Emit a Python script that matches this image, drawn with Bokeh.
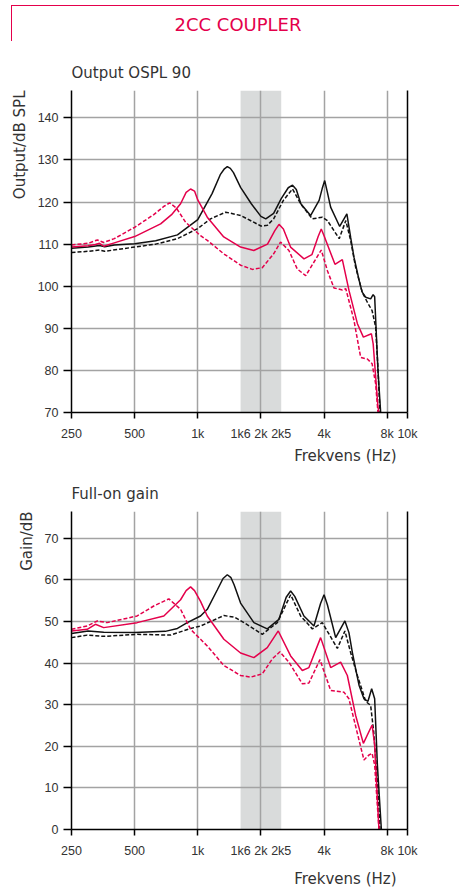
from bokeh.plotting import figure
from bokeh.models import Range1d, FixedTicker, BoxAnnotation, Title, LinearAxis, Div
from bokeh.layouts import column
from bokeh.embed import file_html
from bokeh.resources import INLINE

RED = "#e4004b"
BLACK = "#111111"
TXT = "#333333"
GRID = "#a3a3a3"
BAND = "#d9dbdb"
TICK_FONT = "Liberation Sans"
LABEL_FONT = "DejaVu Sans"

header_text = "2CC COUPLER"
chart1_title = "Output OSPL 90"
chart1_ylabel = "Output/dB SPL"
chart2_title = "Full-on gain"
chart2_ylabel = "Gain/dB"
x_title = "Frekvens (Hz)"

# x axis
x_tick_values = [250, 500, 1000, 1600, 2000, 2500, 4000, 8000, 10000]
x_tick_labels = ["250", "500", "1k", "1k6", "2k", "2k5", "4k", "8k", "10k"]
x_tick_marks = [250, 500, 1000, 2000, 4000, 8000, 10000]
x_grid_values = [500, 1000, 2000, 4000, 8000]
band_low, band_high = 1600, 2500

# chart 1: Output OSPL 90 (dB SPL)
ospl_y_ticks = [70, 80, 90, 100, 110, 120, 130, 140]
ospl_black_solid_f = [250, 300, 340, 360, 400, 500, 630, 800, 1000, 1170, 1280, 1340, 1383, 1430, 1480, 1600, 1800,
                      2000, 2110, 2300, 2500, 2700, 2830, 2950, 3100, 3450, 3790, 3920, 4030, 4150, 4300, 4750, 5140,
                      5357, 5555, 5880, 6080, 6317, 6673, 6855, 6973, 7230, 7448]
ospl_black_solid_v = [109.0, 109.3, 109.7, 109.4, 109.8, 110.1, 110.8, 112.2, 115.8, 122.0, 126.5, 127.9, 128.4,
                      128.0, 127.0, 123.5, 119.6, 116.6, 116.0, 117.3, 120.8, 123.4, 124.0, 123.0, 119.6, 116.8,
                      120.4, 123.2, 125.1, 122.3, 118.8, 114.2, 117.2, 111.6, 106.9, 101.4, 98.6, 97.4, 97.0, 98.0,
                      97.5, 80.0, 70.0]
ospl_black_dash_f = [250, 300, 340, 360, 500, 630, 800, 1000, 1150, 1360, 1600, 1800, 2000, 2150, 2300, 2560, 2830,
                     3100, 3520, 3925, 4150, 4725, 5080, 5357, 5660, 6080, 6435, 6780, 7050, 7230, 7390]
ospl_black_dash_v = [108.0, 108.3, 108.6, 108.3, 109.3, 110.0, 111.3, 113.7, 116.0, 117.6, 116.8, 115.5, 114.3, 114.5,
                     116.0, 120.4, 123.1, 119.5, 116.0, 116.4, 115.6, 111.3, 115.6, 110.9, 104.5, 98.6, 96.2, 94.2,
                     90.3, 80.5, 70.0]
ospl_red_solid_f = [250, 300, 325, 340, 356, 400, 500, 665, 750, 828, 880, 924, 965, 1000, 1110, 1330, 1600, 1850,
                    2150, 2330, 2440, 2560, 2770, 3210, 3500, 3750, 3880, 4000, 4510, 4890, 5260, 5770, 6160, 6730,
                    6860, 7230, 7310]
ospl_red_solid_v = [109.3, 109.6, 109.9, 110.2, 109.5, 110.3, 111.8, 114.8, 117.0, 119.6, 122.3, 123.1, 122.6, 120.5,
                    116.4, 111.7, 109.3, 108.5, 110.0, 113.2, 114.7, 113.6, 109.3, 106.5, 107.5, 111.8, 113.6, 112.0,
                    105.2, 106.3, 99.0, 91.1, 87.9, 88.7, 86.3, 71.3, 70.0]
ospl_red_dash_f = [250, 300, 332, 356, 400, 500, 617, 690, 735, 790, 875, 1031, 1110, 1330, 1600, 1820, 2030, 2300,
                   2480, 2720, 2980, 3270, 3880, 4150, 4460, 4890, 5080, 5555, 5980, 6435, 6780, 7050, 7230]
ospl_red_dash_v = [109.8, 110.2, 111.0, 110.4, 111.3, 114.0, 117.0, 119.0, 119.8, 118.6, 115.2, 112.0, 110.9, 107.7,
                   105.0, 104.0, 104.4, 107.7, 110.5, 108.5, 104.1, 102.5, 108.6, 103.7, 99.6, 99.1, 99.4, 91.9, 83.1,
                   82.7, 81.6, 76.8, 70.0]

# chart 2: Full-on gain (dB)
gain_y_ticks = [0, 10, 20, 30, 40, 50, 60, 70]
gain_black_solid_f = [250, 300, 356, 500, 700, 800, 891, 1031, 1110, 1240, 1320, 1383, 1440, 1490, 1600, 1852, 2145,
                      2437, 2640, 2772, 2900, 3207, 3580, 3850, 4000, 4150, 4545, 5030, 5258, 5460, 5660, 5880, 6200,
                      6480, 6747, 6973, 7185, 7505]
gain_black_solid_v = [47.1, 47.7, 47.4, 47.3, 47.6, 48.3, 49.7, 51.3, 52.9, 57.6, 60.3, 61.2, 60.5, 58.8, 54.4, 49.7,
                      48.2, 50.5, 55.8, 57.3, 56.0, 51.3, 48.9, 54.3, 56.4, 54.0, 46.1, 50.1, 47.3, 42.5, 38.6, 34.6,
                      31.4, 30.8, 33.8, 31.4, 15.5, 0.0]
gain_black_dash_f = [250, 297, 356, 514, 742, 924, 1031, 1332, 1500, 1660, 2031, 2395, 2772, 3093, 3518, 3925, 4630,
                     5030, 5357, 5767, 6317, 6673, 6900, 7230, 7390]
gain_black_dash_v = [46.1, 46.7, 46.4, 46.9, 46.7, 48.3, 48.9, 51.4, 51.0, 49.7, 46.9, 49.7, 56.4, 51.3, 48.2, 49.7,
                     43.5, 47.7, 42.5, 37.0, 30.8, 29.8, 23.5, 9.2, 0.0]
gain_red_solid_f = [250, 297, 325, 356, 514, 689, 828, 880, 924, 965, 1031, 1110, 1332, 1600, 1852, 2145, 2420, 2772,
                    3151, 3388, 3853, 4302, 4800, 5166, 5660, 6160, 6780, 6973, 7310]
gain_red_solid_v = [47.7, 48.1, 49.3, 48.5, 49.7, 51.3, 55.2, 57.4, 58.3, 57.4, 54.8, 51.3, 45.7, 42.4, 41.3, 43.7,
                    47.7, 41.7, 38.2, 38.9, 46.1, 38.9, 40.2, 37.0, 27.4, 20.7, 25.1, 20.3, 0.0]
gain_red_dash_f = [250, 297, 332, 370, 514, 617, 728, 828, 924, 1031, 1110, 1332, 1600, 1786, 2031, 2267, 2464, 2721,
                   3151, 3388, 3824, 4302, 4977, 5258, 5767, 6200, 6548, 6780, 6973, 7310]
gain_red_dash_v = [48.1, 48.9, 50.1, 49.7, 51.3, 53.7, 55.4, 52.9, 48.1, 45.7, 44.1, 39.4, 37.0, 36.6, 37.4, 41.0,
                   42.7, 40.2, 35.0, 35.2, 40.8, 33.4, 33.0, 31.4, 23.1, 16.7, 17.9, 18.3, 15.5, 0.0]

W = 459


def header():
    html = (
        '<div style="display:block; margin:5px 0 0 11px; width:448px; height:36px; box-sizing:border-box; '
        f'border-top:1.5px solid {RED}; border-left:1.5px solid {RED}; '
        f'padding:8px 0 0 5px; text-align:center; color:{RED}; '
        f'font-family:\'{LABEL_FONT}\'; font-size:18px; line-height:22px;">'
        f'{header_text}</div>'
    )
    return Div(text=html, width=W, height=50, margin=0)


def chart(title, ylabel, y0, y1, yticks, series, height, top, bottom, xt_standoff):
    p = figure(width=W, height=height, x_axis_type="log", x_range=Range1d(250, 10000),
               y_range=Range1d(y0, y1), output_backend="svg", toolbar_location=None,
               min_border_left=71, min_border_right=52, min_border_top=top, min_border_bottom=bottom)
    p.outline_line_color = None

    band = BoxAnnotation(left=band_low, right=band_high, fill_color=BAND, fill_alpha=1.0,
                         line_color=None, level="image")
    p.add_layout(band)

    xa = p.xaxis[0]
    xa.ticker = FixedTicker(ticks=x_tick_values, minor_ticks=x_tick_marks)
    xa.major_label_overrides = {v: l for v, l in zip(x_tick_values, x_tick_labels)}
    xa.major_tick_out = 0
    xa.major_tick_in = 0
    xa.minor_tick_out = 6
    xa.minor_tick_in = 0
    xa.minor_tick_line_color = "black"
    xa.minor_tick_line_width = 1.5
    xa.axis_line_color = "black"
    xa.axis_line_width = 1.5
    xa.major_label_standoff = 8
    xa.major_label_text_font = TICK_FONT
    xa.major_label_text_font_size = "12.5px"
    xa.major_label_text_color = TXT

    ya = p.yaxis[0]
    ya.ticker = FixedTicker(ticks=yticks)
    ya.major_tick_out = 8
    ya.major_tick_in = 0
    ya.minor_tick_out = 0
    ya.minor_tick_in = 0
    ya.major_tick_line_color = "black"
    ya.major_tick_line_width = 1.5
    ya.axis_line_color = "black"
    ya.axis_line_width = 1.5
    ya.major_label_standoff = 5
    ya.major_label_text_font = TICK_FONT
    ya.major_label_text_font_size = "12.5px"
    ya.major_label_text_color = TXT

    ra = LinearAxis(ticker=FixedTicker(ticks=[]), axis_line_color="black", axis_line_width=1.5,
                    major_tick_out=0, major_tick_in=0, minor_tick_out=0, minor_tick_in=0,
                    major_label_text_font_size="0px")
    p.add_layout(ra, "right")

    p.xgrid.ticker = FixedTicker(ticks=x_grid_values)
    p.xgrid.grid_line_color = GRID
    p.xgrid.grid_line_width = 1.5
    p.ygrid.grid_line_color = GRID
    p.ygrid.grid_line_width = 1.5

    for f, v, color, dash in series:
        p.line(f, v, line_color=color, line_width=1.5, line_dash=dash)

    p.add_layout(Title(text=title, align="left", text_font=LABEL_FONT, text_font_size="15px",
                       text_font_style="normal", text_color=TXT, standoff=18), "above")
    p.add_layout(Title(text=ylabel, align="right", text_font=LABEL_FONT, text_font_size="15px",
                       text_font_style="normal", text_color=TXT, standoff=12), "left")
    p.add_layout(Title(text=x_title, align="right", offset=11, text_font=LABEL_FONT, text_font_size="15px",
                       text_font_style="normal", text_color=TXT, standoff=xt_standoff), "below")
    return p


p1 = chart(chart1_title, chart1_ylabel, 70, 146.5, ospl_y_ticks, [
    (ospl_black_dash_f, ospl_black_dash_v, BLACK, "4 2"),
    (ospl_black_solid_f, ospl_black_solid_v, BLACK, "solid"),
    (ospl_red_dash_f, ospl_red_dash_v, RED, "4 2"),
    (ospl_red_solid_f, ospl_red_solid_v, RED, "solid"),
], height=420, top=40, bottom=58, xt_standoff=2)

p2 = chart(chart2_title, chart2_ylabel, 0, 76.4, gain_y_ticks, [
    (gain_black_dash_f, gain_black_dash_v, BLACK, "4 2"),
    (gain_black_solid_f, gain_black_solid_v, BLACK, "solid"),
    (gain_red_dash_f, gain_red_dash_v, RED, "4 2"),
    (gain_red_solid_f, gain_red_solid_v, RED, "solid"),
], height=424, top=41, bottom=62, xt_standoff=14)

layout = column(header(), p1, p2, spacing=0)
open("out.html", "w").write(file_html(layout, INLINE))
